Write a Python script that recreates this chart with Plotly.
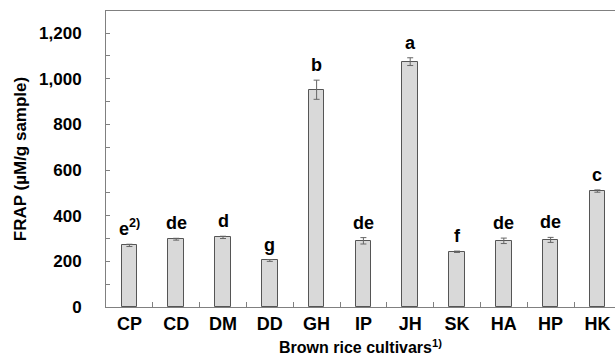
import plotly.graph_objects as go

categories = ["CP", "CD", "DM", "DD", "GH", "IP", "JH", "SK", "HA", "HP", "HK"]
frap = [270, 297, 305, 204, 952, 290, 1075, 242, 290, 294, 508]
errors = [5, 4, 5, 4, 42, 14, 17, 3, 12, 11, 5]
letters = ["e<sup>2)</sup>", "de", "d", "g", "b", "de", "a", "f", "de", "de", "c"]
yticks = [0, 200, 400, 600, 800, 1000, 1200]

FONT = "Liberation Sans, Arial, sans-serif"

fig = go.Figure()
fig.add_trace(go.Bar(
    x=categories, y=frap, width=0.333,
    marker=dict(color="#d9d9d9", line=dict(color="#555555", width=1)),
    error_y=dict(type="data", array=errors, visible=True, color="#666666",
                 thickness=1, width=3),
))

for c, v, e, t in zip(categories, frap, errors, letters):
    fig.add_annotation(x=c, y=v + e, text=t, showarrow=False, yanchor="bottom",
                       yshift=3, font=dict(family=FONT, size=18, color="black", weight="bold"))

fig.update_layout(
    width=615, height=359,
    margin=dict(l=106, r=0, t=11, b=52),
    plot_bgcolor="white", paper_bgcolor="white",
    showlegend=False,
    bargap=0,
    font=dict(family=FONT, color="black"),
)
fig.update_xaxes(
    range=[-0.5, 10.376], type="category",
    showline=True, linecolor="#808080", linewidth=1, mirror=True,
    ticks="inside", tickson="boundaries", ticklen=5, tickcolor="#808080",
    tickfont=dict(family=FONT, size=18, color="black", weight="bold"),
    title=dict(text="Brown rice cultivars<sup>1)</sup>", standoff=9,
               font=dict(family=FONT, size=16, color="black", weight="bold")),
    showgrid=False, zeroline=False,
)
fig.update_yaxes(
    range=[0, 1297],
    tickvals=yticks, ticktext=[f"{v:,}" for v in yticks],
    showline=True, linecolor="#808080", linewidth=1,
    ticks="inside", ticklen=4, tickcolor="#808080",
    minor=dict(ticks="inside", dtick=100, ticklen=4, tickcolor="#808080"),
    ticklabelstandoff=20,
    tickfont=dict(family=FONT, size=17, color="black", weight="bold"),
    title=dict(text="FRAP (µM/g sample)", standoff=8,
               font=dict(family=FONT, size=17, color="black", weight="bold")),
    showgrid=False, zeroline=False,
)

fig.write_html("out.html", config={"displayModeBar": False},
               post_script="document.body.style.margin='0';document.body.style.overflow='hidden';")
